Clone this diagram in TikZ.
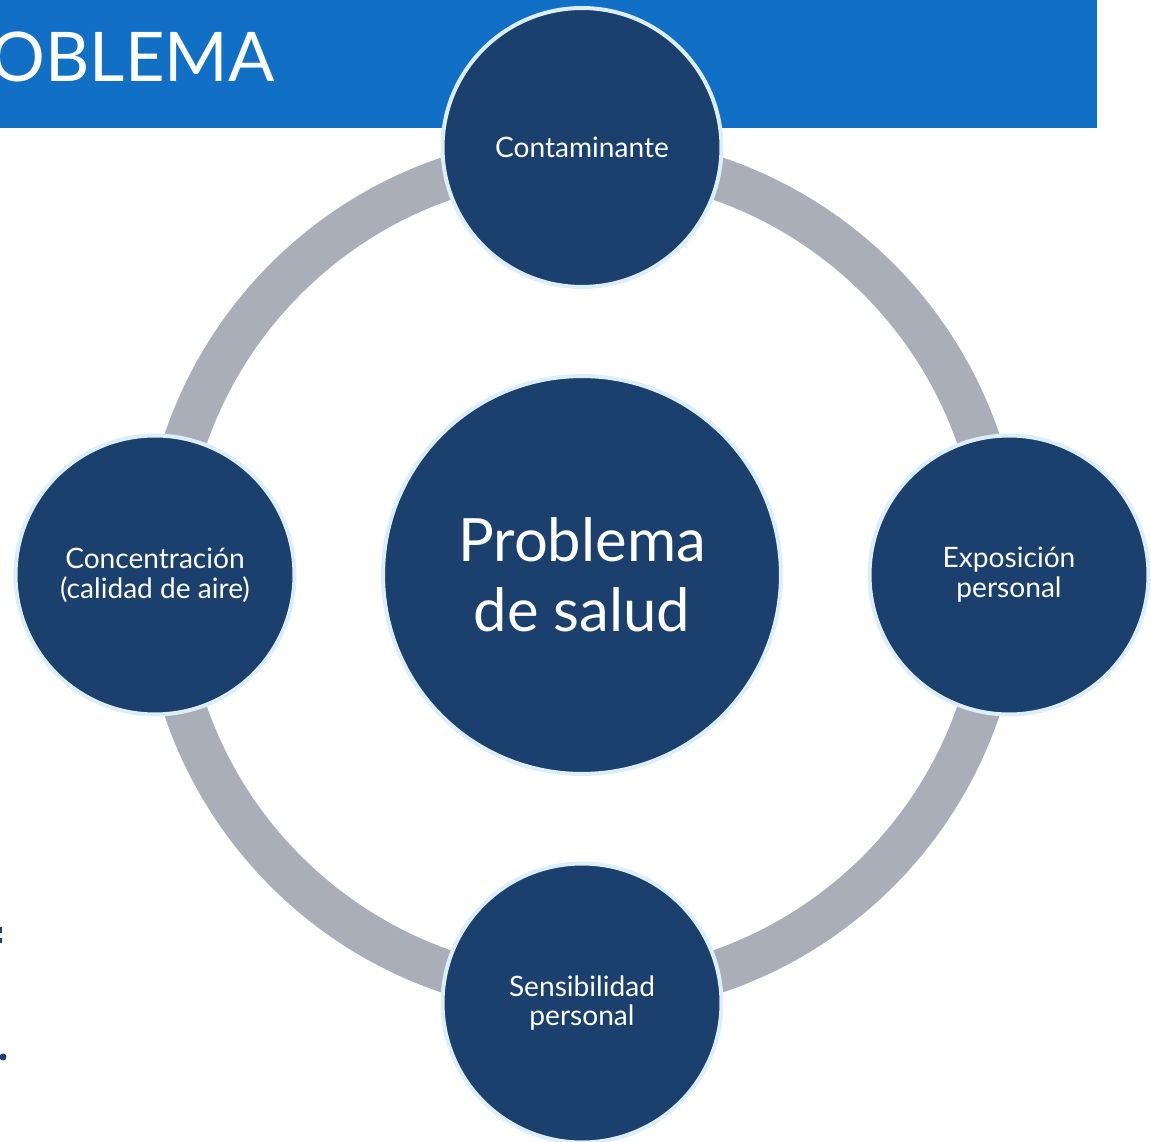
\documentclass[tikz,border=0pt]{standalone}
\usepackage{fontspec}
\setmainfont{Lato}
\definecolor{barblue}{HTML}{116FC6}
\definecolor{navy}{HTML}{1B406E}
\definecolor{rim}{HTML}{DCEEF8}
\definecolor{ringgray}{HTML}{AAAEB9}
\tikzstyle{factor} = [circle,fill=navy,draw=rim,line width=0.08cm,minimum size=5.58cm,inner sep=0pt,align=center,text=white,font=\fontsize{16}{17}\selectfont]
\tikzstyle{core} = [factor,minimum size=7.96cm,font=\fontsize{34}{40}\selectfont]
\tikzstyle{cycle} = [draw=ringgray,line width=0.86cm]

\begin{document}
\begin{tikzpicture}[x=0.02cm,y=-0.02cm]
    \useasboundingbox (0,0) rectangle (1151,1141);
    \fill[barblue] (0,0) rectangle (1097,128);
    \node (title)[anchor=base east,inner sep=0pt,text=white,font=\fontsize{39}{39}\selectfont] at (275,82) {OBLEMA};
    % bits of slide text cut at the left edge
    \fill[navy] (0,927) rectangle (1.5,933);
    \fill[navy] (0,938) rectangle (1.5,943);
    \fill[navy] (3,1057) circle[radius=0.07cm];

    \coordinate (c) at (582,575);
    \draw[cycle] (c) circle[radius=8.38cm];

    \node (salud)[core]   at (c)         {Problema\\de salud};
    \node (cont)[factor]  at (582,147.5) {Contaminante};
    \node (expo)[factor]  at (1009,575)  {Exposición\\personal};
    \node (sens)[factor]  at (582,1003)  {Sensibilidad\\personal};
    \node (conc)[factor]  at (155,575)   {Concentración\\(calidad de aire)};
\end{tikzpicture}
\end{document}
